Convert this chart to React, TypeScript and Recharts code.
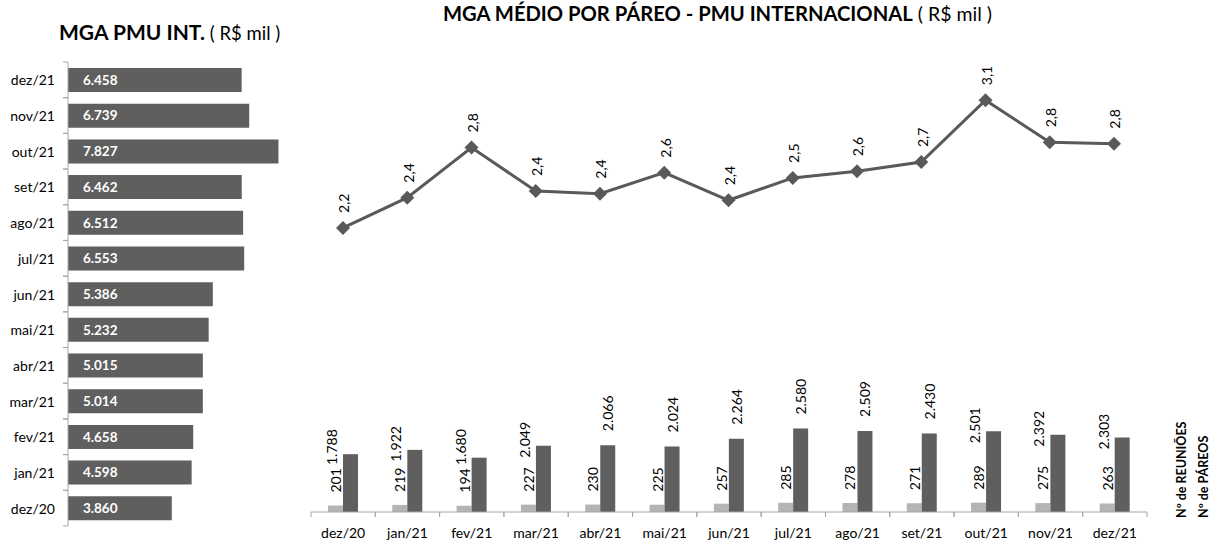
import React from 'react';
import { BarChart, Bar, LineChart, Line, XAxis, YAxis, LabelList } from 'recharts';

// meses (dez/20 .. dez/21)
const months = ['dez/20', 'jan/21', 'fev/21', 'mar/21', 'abr/21', 'mai/21', 'jun/21', 'jul/21', 'ago/21', 'set/21', 'out/21', 'nov/21', 'dez/21'];

// MGA total PMU internacional (R$ mil)
const mgaTotal = [3860, 4598, 4658, 5014, 5015, 5232, 5386, 6553, 6512, 6462, 7827, 6739, 6458];

// MGA medio por pareo (R$ mil)
const mgaMedio = [2.16, 2.39, 2.77, 2.44, 2.42, 2.58, 2.37, 2.54, 2.59, 2.66, 3.13, 2.81, 2.8];

// numero de reunioes e de pareos
const reunioes = [201, 219, 194, 227, 230, 225, 257, 285, 278, 271, 289, 275, 263];
const pareos = [1788, 1922, 1680, 2049, 2066, 2024, 2264, 2580, 2509, 2430, 2501, 2392, 2303];

const FONT = 'Lato, "Open Sans", sans-serif';
const DARK = '#5f5f5f';
const LIGHT = '#b4b4b4';
const AXIS = '#a6a6a6';

// labels de pareos que no original ficam deslocados para a esquerda
const shiftedLabels = new Set([0, 1, 2, 3, 10, 11, 12]);

const fmtMil = (v: number) => String(v).replace(/\B(?=(\d{3})+(?!\d))/g, '.');
const fmtDec = (v: number) => v.toFixed(1).replace('.', ',');

const leftData = months.map((m, i) => ({ month: m, mga: mgaTotal[i] }));
const rightData = months.map((m, i) => ({
  month: m,
  medio: mgaMedio[i],
  reunioes: reunioes[i],
  pareos: pareos[i],
}));

const LeftTick = ({ x, y, payload }: any) => {
  const half = payload?.offset || 17.8;
  return (
    <g>
      <line x1={x - 5} x2={x} y1={y - half} y2={y - half} stroke={AXIS} />
      <line x1={x - 5} x2={x} y1={y + half} y2={y + half} stroke={AXIS} />
      <text x={x - 13} y={y} textAnchor="end" dominantBaseline="central" fontSize={14} fill="#000">
        {payload.value}
      </text>
    </g>
  );
};

const BottomTick = ({ x, y, payload }: any) => {
  const half = payload?.offset || 32.15;
  return (
    <g>
      <line x1={x - half} x2={x - half} y1={y} y2={y + 5} stroke={AXIS} />
      <line x1={x + half} x2={x + half} y1={y} y2={y + 5} stroke={AXIS} />
      <text x={x} y={y + 20} textAnchor="middle" dominantBaseline="central" fontSize={14} fill="#000">
        {payload.value}
      </text>
    </g>
  );
};

const Diamond = ({ cx, cy }: any) => {
  if (cx == null || cy == null) return null;
  const r = 7;
  return <polygon points={`${cx},${cy - r} ${cx + r},${cy} ${cx},${cy + r} ${cx - r},${cy}`} fill="#595959" />;
};

const VText = ({ x, y, children }: any) => (
  <text
    x={x}
    y={y}
    transform={`rotate(-90, ${x}, ${y})`}
    textAnchor="start"
    dominantBaseline="central"
    fontSize={14}
    fill="#000"
  >
    {children}
  </text>
);

const LineLabel = ({ x, y, value }: any) => <VText x={x + 1} y={y - 15}>{fmtDec(value)}</VText>;

const ReunLabel = ({ x, y, width, value }: any) => <VText x={x + width / 2} y={y - 13}>{value}</VText>;

const PareoLabel = ({ x, y, width, height, value, index }: any) => {
  const cx = x + width / 2;
  if (shiftedLabels.has(index)) {
    return <VText x={cx - 19} y={Math.min(y + 12, y + height - 47)}>{fmtMil(value)}</VText>;
  }
  return <VText x={cx} y={y - 14}>{fmtMil(value)}</VText>;
};

export default function App() {
  return (
    <div style={{ position: 'absolute', left: 0, top: 0, width: 1220, height: 543, fontFamily: FONT, background: '#fff' }}>
      <div style={{ position: 'absolute', left: 59, top: 19, whiteSpace: 'nowrap', color: '#000' }}>
        <span style={{ fontWeight: 700, fontSize: 21 }}>MGA PMU INT.</span>
        <span style={{ fontSize: 18.5 }}> ( R$ mil )</span>
      </div>
      <div style={{ position: 'absolute', left: 443, top: 1, whiteSpace: 'nowrap', color: '#000' }}>
        <span style={{ fontWeight: 700, fontSize: 20.2 }}>MGA MÉDIO POR PÁREO - PMU INTERNACIONAL</span>
        <span style={{ fontSize: 19.5 }}> ( R$ mil )</span>
      </div>

      <div style={{ position: 'absolute', left: 0, top: 0 }}>
        <BarChart width={320} height={543} data={leftData} layout="vertical" margin={{ top: 62, right: 10, bottom: 17, left: 0 }}>
          <XAxis type="number" hide domain={[0, 9000]} />
          <YAxis
            type="category"
            dataKey="month"
            reversed
            width={68}
            interval={0}
            axisLine={{ stroke: AXIS }}
            tickLine={false}
            tickSize={0}
            tickMargin={0}
            tick={<LeftTick />}
          />
          <Bar dataKey="mga" fill={DARK} barSize={24} isAnimationActive={false}>
            <LabelList
              dataKey="mga"
              position="insideLeft"
              offset={15}
              fill="#fff"
              fontWeight={700}
              fontSize={13.5}
              formatter={(v: any) => fmtMil(Number(v))}
            />
          </Bar>
        </BarChart>
      </div>

      <div style={{ position: 'absolute', left: 0, top: 0 }}>
        <LineChart width={1220} height={249} data={rightData} margin={{ top: 91, right: 106, bottom: 0, left: 343 }}>
          <XAxis dataKey="month" hide scale="point" />
          <YAxis hide domain={[2, 3.2]} />
          <Line
            type="linear"
            dataKey="medio"
            stroke="#595959"
            strokeWidth={3}
            dot={<Diamond />}
            activeDot={false}
            isAnimationActive={false}
          >
            <LabelList dataKey="medio" content={<LineLabel />} />
          </Line>
        </LineChart>
      </div>

      <div style={{ position: 'absolute', left: 0, top: 360 }}>
        <BarChart width={1220} height={183} data={rightData} barGap={0} margin={{ top: 55, right: 73, bottom: 0, left: 311 }}>
          <XAxis
            dataKey="month"
            interval={0}
            height={31}
            axisLine={{ stroke: AXIS }}
            tickLine={false}
            tickSize={0}
            tickMargin={0}
            tick={<BottomTick />}
          />
          <YAxis hide domain={[0, 3000]} />
          <Bar dataKey="reunioes" fill={LIGHT} barSize={15} isAnimationActive={false}>
            <LabelList dataKey="reunioes" content={<ReunLabel />} />
          </Bar>
          <Bar dataKey="pareos" fill={DARK} barSize={15} isAnimationActive={false}>
            <LabelList dataKey="pareos" content={<PareoLabel />} />
          </Bar>
        </BarChart>
      </div>

      <svg style={{ position: 'absolute', left: 1160, top: 400 }} width={60} height={130}>
        <text transform="translate(21,118) rotate(-90)" textAnchor="start" dominantBaseline="central" fontSize={12.5} fontWeight={700} fill="#000">
          Nº de REUNIÕES
        </text>
        <text transform="translate(43,118) rotate(-90)" textAnchor="start" dominantBaseline="central" fontSize={12.5} fontWeight={700} fill="#000">
          Nº de PÁREOS
        </text>
      </svg>
    </div>
  );
}
